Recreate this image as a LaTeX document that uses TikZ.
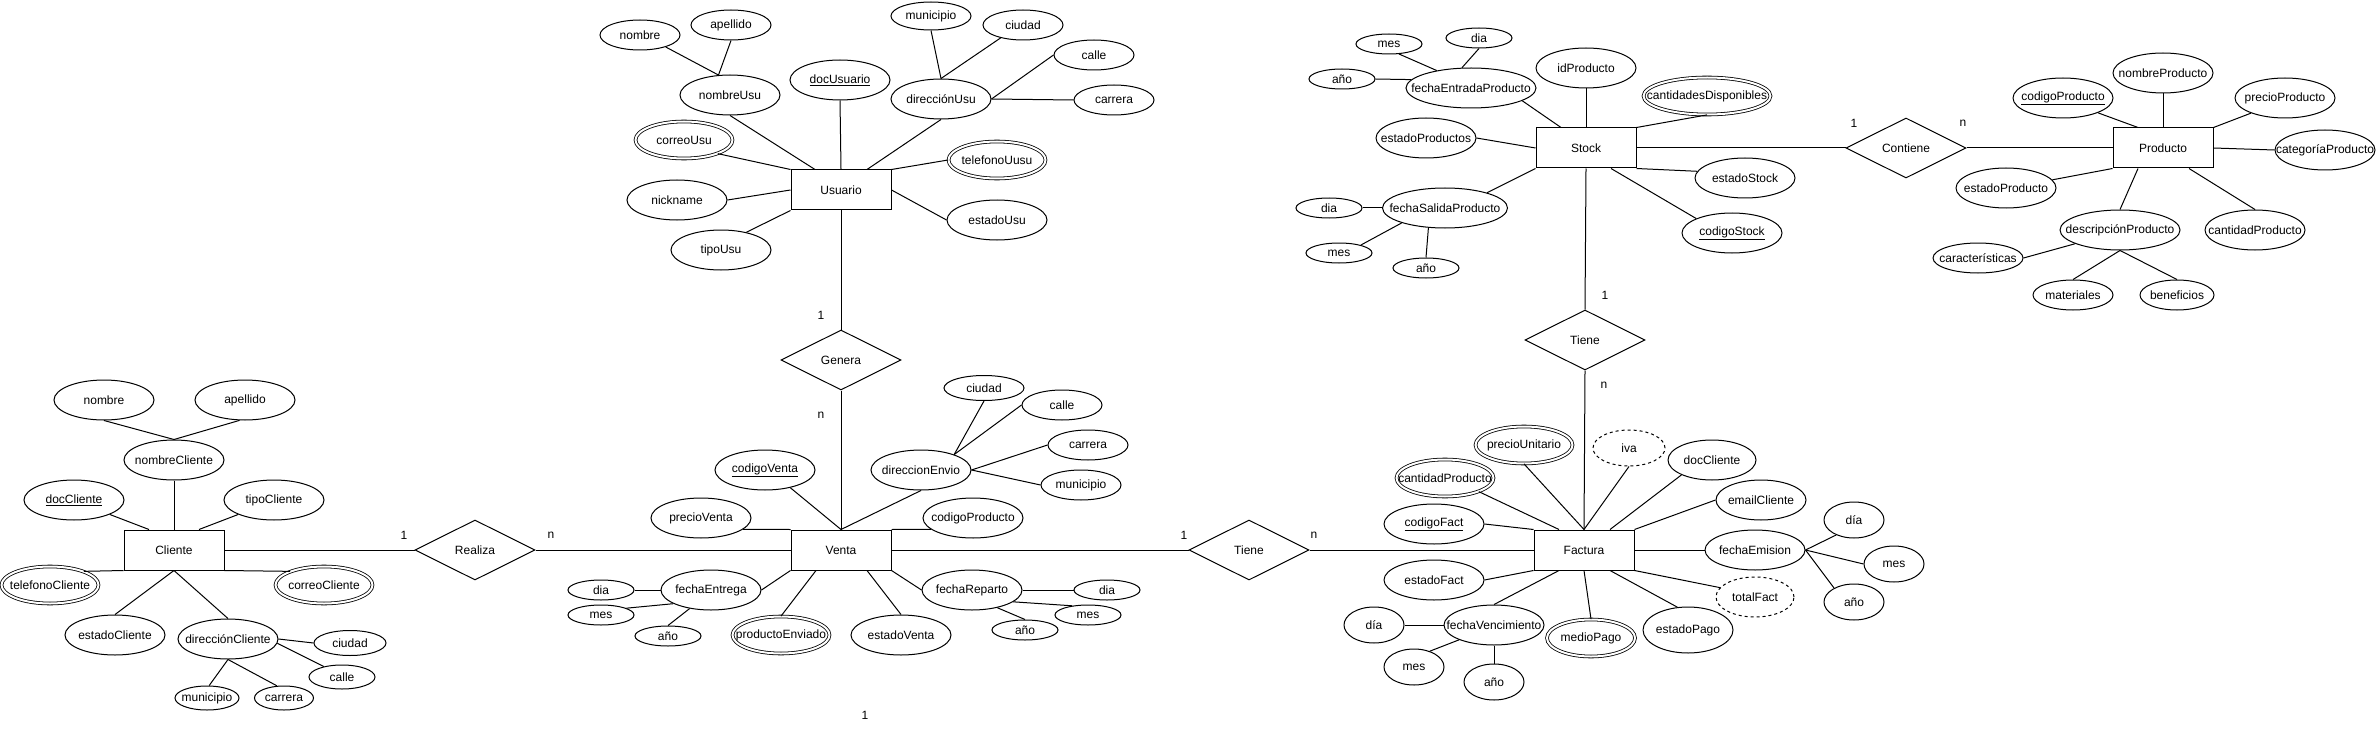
\documentclass[tikz,border=0pt]{standalone}
\usepackage{fontspec}
\setmainfont{Liberation Sans}
\usetikzlibrary{shapes.geometric}
\newcommand{\ztxt}[1]{\makebox[0pt]{#1}}
\begin{document}
\begin{tikzpicture}[x=1pt,y=-1pt,font=\fontsize{12}{14}\selectfont,line width=1pt,
 ent/.style={draw,rectangle,minimum width=100pt,minimum height=40pt,inner sep=0pt},
 rel/.style={draw,diamond,shape aspect=2,minimum width=120pt,minimum height=60pt,inner sep=0pt},
 attr/.style={draw,ellipse,minimum width=100pt,minimum height=40pt,inner sep=0pt},
 mattr/.style={attr,double,double distance=2pt,line width=0.8pt,minimum width=97pt,minimum height=37pt},
 dattr/.style={attr,dash pattern=on 3pt off 3pt},
 sm/.style={attr,minimum width=66pt,minimum height=20pt},
 card/.style={inner sep=0pt}]
\fill[white] (0,0) rectangle (2376,730);
\useasboundingbox (0,0) rectangle (2376,730);

% ---------------- Cliente
\node[ent] (cli) at (174,550) {Cliente};
\node[attr] (cliNom) at (104,400) {\ztxt{nombre}};
\node[attr] (cliApe) at (245,400) {\ztxt{apellido}};
\node[attr] (cliNC) at (174,460) {\ztxt{nombreCliente}};
\node[attr] (cliDoc) at (74,500) {\ztxt{\underline{docCliente}}};
\node[attr] (cliTipo) at (274,500) {\ztxt{tipoCliente}};
\node[mattr] (cliTel) at (50,585) {\ztxt{telefonoCliente}};
\node[mattr] (cliCor) at (324,585) {\ztxt{correoCliente}};
\node[attr] (cliEst) at (115,635) {\ztxt{estadoCliente}};
\node[attr] (cliDir) at (228,639) {\ztxt{direcciónCliente}};
\node[attr,minimum width=72pt,minimum height=25pt] (cliCiu) at (350,643) {\ztxt{ciudad}};
\node[attr,minimum width=66pt,minimum height=24pt] (cliCal) at (342,677) {\ztxt{calle}};
\node[attr,minimum width=64pt,minimum height=24pt] (cliMun) at (207,698) {\ztxt{municipio}};
\node[attr,minimum width=59pt,minimum height=24pt] (cliCar) at (284,698) {\ztxt{carrera}};
\draw (cliNom.south) -- (cliNC.north);
\draw (cliApe.-105) -- (cliNC.north);
\draw (cliNC.south) -- (cli.north);
\draw (cliDoc.-22) -- ([xshift=-25pt]cli.north);
\draw (cliTipo.-158) -- ([xshift=25pt]cli.north);
\draw (cliTel.22) -- (cli.south west);
\draw (cli.south east) -- (cliCor.158);
\draw (cli.south) -- (cliEst.north);
\draw (cli.south) -- (cliDir.north);
\draw (cliDir.east) -- (cliCiu.west);
\draw (cliDir.-5) -- (cliCal.150);
\draw (cliDir.south) -- (cliMun.80);
\draw (cliDir.south) -- (cliCar.120);

% ---------------- Realiza
\node[rel] (real) at (475,550) {Realiza};
\node[card] (cR1) at (404,535) {1};
\node[card] (cRn) at (551,535) {n};

% ---------------- Usuario
\node[ent] (usu) at (841,190) {Usuario};
\node[attr,minimum width=80pt,minimum height=30pt] (usuNom) at (640,35) {\ztxt{nombre}};
\node[attr,minimum width=80pt,minimum height=30pt] (usuApe) at (731,25) {\ztxt{apellido}};
\node[attr] (usuNU) at (730,95) {\ztxt{nombreUsu}};
\node[attr] (usuDoc) at (840,80) {\ztxt{\underline{docUsuario}}};
\node[attr] (usuDir) at (941,99) {\ztxt{direcciónUsu}};
\node[attr,minimum width=80pt,minimum height=28pt] (usuMun) at (931,16) {\ztxt{municipio}};
\node[attr,minimum width=80pt,minimum height=30pt] (usuCiu) at (1023,25) {\ztxt{ciudad}};
\node[attr,minimum width=80pt,minimum height=30pt] (usuCal) at (1094,55) {\ztxt{calle}};
\node[attr,minimum width=80pt,minimum height=30pt] (usuCar) at (1114,100) {\ztxt{carrera}};
\node[mattr] (usuCor) at (684,140) {\ztxt{correoUsu}};
\node[mattr] (usuTel) at (997,160) {\ztxt{telefonoUusu}};
\node[attr] (usuNick) at (677,200) {\ztxt{nickname}};
\node[attr] (usuTipo) at (721,250) {\ztxt{tipoUsu}};
\node[attr] (usuEst) at (997,220) {\ztxt{estadoUsu}};
\draw (usuNom.-25) -- (usuNU.120);
\draw (usuApe.south) -- (usuNU.120);
\draw (usuNU.south) -- ([xshift=-26pt]usu.north);
\draw (usuDoc.south) -- (usu.north);
\draw (usuDir.south) -- ([xshift=26pt]usu.north);
\draw (usuCor.-22) -- (usu.north west);
\draw (usuTel.west) -- (usu.north east);
\draw (usuNick.east) -- (usu.west);
\draw (usuTipo.35) -- (usu.south west);
\draw (usuEst.west) -- (usu.east);
\draw (usuMun.south) -- (usuDir.north);
\draw (usuCiu.-150) -- (usuDir.north);
\draw (usuCal.west) -- (usuDir.east);
\draw (usuDir.east) -- (usuCar.west);

% ---------------- Genera
\node[rel] (gen) at (841,360) {Genera};
\node[card] (cG1) at (821,315) {1};
\node[card] (cGn) at (821,415) {n};
\draw (usu.south) -- (gen.north);

% ---------------- Venta
\node[ent] (ven) at (841,550) {Venta};
\node[attr] (venCod) at (765,470) {\ztxt{\underline{codigoVenta}}};
\node[attr] (venPre) at (701,518) {\ztxt{precioVenta}};
\node[attr] (venDir) at (921,470) {\ztxt{direccionEnvio}};
\node[attr,minimum width=80pt,minimum height=25pt] (venCiu) at (984,388) {\ztxt{ciudad}};
\node[attr,minimum width=80pt,minimum height=30pt] (venCal) at (1062,405) {\ztxt{calle}};
\node[attr,minimum width=80pt,minimum height=30pt] (venCar) at (1088,445) {\ztxt{carrera}};
\node[attr,minimum width=80pt,minimum height=30pt] (venMun) at (1081,485) {\ztxt{municipio}};
\node[attr] (venCP) at (973,518) {\ztxt{codigoProducto}};
\node[attr] (venFE) at (711,590) {\ztxt{fechaEntrega}};
\node[sm] (venFEd) at (601,590) {\ztxt{dia}};
\node[sm] (venFEm) at (601,615) {\ztxt{mes}};
\node[sm] (venFEa) at (668,636) {\ztxt{año}};
\node[mattr] (venPE) at (781,635) {\ztxt{productoEnviado}};
\node[attr] (venEst) at (901,635) {\ztxt{estadoVenta}};
\node[attr] (venFR) at (972,590) {\ztxt{fechaReparto}};
\node[sm] (venFRd) at (1107,590) {\ztxt{dia}};
\node[sm] (venFRm) at (1088,615) {\ztxt{mes}};
\node[sm] (venFRa) at (1025,630) {\ztxt{año}};
\draw (gen.south) -- (ven.north);
\draw (venCod.-35) -- (ven.north);
\draw (venDir.south) -- (ven.north);
\draw (venPre.-15) -- (ven.north west);
\draw (venCP.-165) -- (ven.north east);
\draw (venDir.25) -- (venCiu.south);
\draw (venDir.25) -- (venCal.west);
\draw (venDir.east) -- (venCar.west);
\draw (venDir.east) -- (venMun.west);
\draw (ven.south west) -- (venFE.east);
\draw (venFEd.east) -- (venFE.west);
\draw (venFEm.15) -- (venFE.-160);
\draw (venFEa.north) -- (venFE.-139);
\draw ([xshift=-25pt]ven.south) -- (venPE.north);
\draw ([xshift=26pt]ven.south) -- (venEst.north);
\draw (ven.south east) -- (venFR.west);
\draw (venFR.east) -- (venFRd.west);
\draw (venFR.-16) -- (venFRm.150);
\draw (venFR.-35) -- (venFRa.north);
\draw (cli.east) -- (real.west);
\draw (real.east) -- (ven.west);
\node[card] (cStray) at (865,715) {1};

% ---------------- Tiene (Venta-Factura)
\node[rel] (tie1) at (1249,550) {Tiene};
\node[card] (cT1) at (1184,535) {1};
\node[card] (cTn) at (1314,535) {n};
\draw (ven.east) -- (tie1.west);

% ---------------- Factura
\node[ent] (fac) at (1584,550) {Factura};
\node[mattr] (facPU) at (1524,445) {\ztxt{precioUnitario}};
\node[dattr,minimum width=72pt,minimum height=36pt] (facIva) at (1629,448) {\ztxt{iva}};
\node[mattr] (facCP) at (1445,478) {\ztxt{cantidadProducto}};
\node[attr] (facCod) at (1434,524) {\ztxt{\underline{codigoFact}}};
\node[attr] (facEst) at (1434,580) {\ztxt{estadoFact}};
\node[attr] (facFV) at (1494,625) {\ztxt{fechaVencimiento}};
\node[attr,minimum width=60pt,minimum height=36pt] (facFVd) at (1374,625) {\ztxt{día}};
\node[attr,minimum width=60pt,minimum height=36pt] (facFVm) at (1414,667) {\ztxt{mes}};
\node[attr,minimum width=60pt,minimum height=36pt] (facFVa) at (1494,682) {\ztxt{año}};
\node[mattr,minimum width=88pt] (facMP) at (1591,638) {\ztxt{medioPago}};
\node[attr,minimum width=90pt,minimum height=46pt] (facEP) at (1688,630) {\ztxt{estadoPago}};
\node[dattr,minimum width=78pt] (facTot) at (1755,597) {\ztxt{totalFact}};
\node[attr] (facFEm) at (1755,550) {\ztxt{fechaEmision}};
\node[attr,minimum width=60pt,minimum height=36pt] (facFEd) at (1854,520) {\ztxt{día}};
\node[attr,minimum width=60pt,minimum height=36pt] (facFEm2) at (1894,564) {\ztxt{mes}};
\node[attr,minimum width=60pt,minimum height=36pt] (facFEa) at (1854,602) {\ztxt{año}};
\node[attr,minimum width=90pt] (facEm) at (1761,500) {\ztxt{emailCliente}};
\node[attr,minimum width=88pt] (facDoc) at (1712,460) {\ztxt{docCliente}};
\draw (tie1.east) -- (fac.west);
\draw (facCP.-22) -- ([xshift=-25pt]fac.north);
\draw (facPU.south) -- (fac.north);
\draw (facIva.south) -- (fac.north);
\draw (facDoc.-154) -- ([xshift=26pt]fac.north);
\draw (facEm.west) -- (fac.north east);
\draw (fac.east) -- (facFEm.west);
\draw (fac.south east) -- (facTot.165);
\draw ([xshift=26pt]fac.south) -- (facEP.115);
\draw (fac.south) -- (facMP.north);
\draw ([xshift=-25pt]fac.south) -- (facFV.north);
\draw (facEst.east) -- (fac.south west);
\draw (facCod.east) -- (fac.north west);
\draw (facFVd.east) -- (facFV.west);
\draw (facFVm.45) -- (facFV.-157);
\draw (facFVa.north) -- (facFV.south);
\draw (facFEm.east) -- (facFEd.-140);
\draw (facFEm.east) -- (facFEm2.west);
\draw (facFEm.east) -- (facFEa.145);

% ---------------- Stock
\node[ent] (stk) at (1586,148) {Stock};
\node[sm] (stkEm) at (1389,44) {\ztxt{mes}};
\node[sm] (stkEd) at (1479,38) {\ztxt{dia}};
\node[sm] (stkEa) at (1342,79) {\ztxt{año}};
\node[attr,minimum width=130pt] (stkFE) at (1471,88) {\ztxt{fechaEntradaProducto}};
\node[attr] (stkId) at (1586,68) {\ztxt{idProducto}};
\node[mattr,minimum width=127pt] (stkCD) at (1707,96) {\ztxt{cantidadesDisponibles}};
\node[attr] (stkEP) at (1426,138) {\ztxt{estadoProductos}};
\node[attr,minimum width=125pt] (stkFS) at (1445,208) {\ztxt{fechaSalidaProducto}};
\node[sm] (stkSd) at (1329,208) {\ztxt{dia}};
\node[sm] (stkSm) at (1339,253) {\ztxt{mes}};
\node[sm] (stkSa) at (1426,268) {\ztxt{año}};
\node[attr] (stkES) at (1745,178) {\ztxt{estadoStock}};
\node[attr] (stkCod) at (1732,233) {\ztxt{\underline{codigoStock}}};
\draw (stkFE.-14) -- ([xshift=-25pt]stk.north);
\draw (stkId.south) -- (stk.north);
\draw (stkCD.south) -- (stk.north east);
\draw (stkEP.east) -- (stk.west);
\draw (stkFS.20) -- (stk.south west);
\draw (stkES.172) -- (stk.south east);
\draw (stkCod.158) -- ([xshift=25pt]stk.south);
\draw (stkEm.-45) -- (stkFE.153);
\draw (stkEd.south) -- (stkFE.114);
\draw (stkEa.east) -- (stkFE.172);
\draw (stkSd.east) -- (stkFS.west);
\draw (stkSm.20) -- (stkFS.-161);
\draw (stkSa.north) -- (stkFS.-130);

% ---------------- Tiene (Stock-Factura)
\node[rel] (tie2) at (1585,340) {Tiene};
\node[card] (cT21) at (1605,295) {1};
\node[card] (cT2n) at (1604,385) {n};
\draw (stk.south) -- (tie2.north);
\draw (tie2.south) -- (fac.north);

% ---------------- Contiene
\node[rel] (con) at (1906,148) {Contiene};
\node[card] (cC1) at (1854,123) {1};
\node[card] (cCn) at (1963,123) {n};
\draw (stk.east) -- (con.west);

% ---------------- Producto
\node[ent] (pro) at (2163,148) {Producto};
\node[attr] (proCod) at (2063,98) {\ztxt{\underline{codigoProducto}}};
\node[attr] (proNom) at (2163,73) {\ztxt{nombreProducto}};
\node[attr] (proPre) at (2285,98) {\ztxt{precioProducto}};
\node[attr] (proCat) at (2325,150) {\ztxt{categoríaProducto}};
\node[attr] (proEst) at (2006,188) {\ztxt{estadoProducto}};
\node[attr,minimum width=120pt] (proDes) at (2120,230) {\ztxt{descripciónProducto}};
\node[attr] (proCan) at (2255,230) {\ztxt{cantidadProducto}};
\node[attr,minimum width=90pt,minimum height=30pt] (proCar) at (1978,258) {\ztxt{características}};
\node[attr,minimum width=80pt,minimum height=30pt] (proMat) at (2073,295) {\ztxt{materiales}};
\node[attr,minimum width=74pt,minimum height=30pt] (proBen) at (2177,295) {\ztxt{beneficios}};
\draw (con.east) -- (pro.west);
\draw (proCod.-23) -- ([xshift=-25pt]pro.north);
\draw (proNom.south) -- (pro.north);
\draw (proPre.-156) -- (pro.north east);
\draw (pro.east) -- (proCat.west);
\draw (proEst.10) -- (pro.south west);
\draw ([xshift=-25pt]pro.south) -- (proDes.north);
\draw ([xshift=26pt]pro.south) -- (proCan.north);
\draw (proDes.-163) -- (proCar.east);
\draw (proDes.south) -- (proMat.north);
\draw (proDes.south) -- (proBen.north);
\end{tikzpicture}
\end{document}
